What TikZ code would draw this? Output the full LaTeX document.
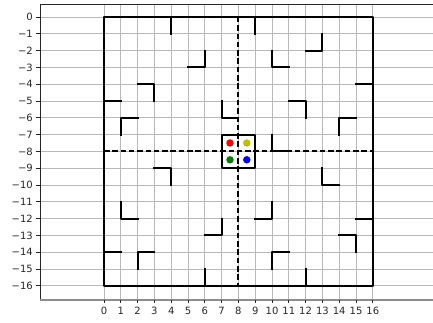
\documentclass[tikz,border=0pt]{standalone}
\usepackage{fontspec}
\setmainfont{DejaVu Sans}
\begin{document}
\begin{tikzpicture}[x=16.8pt,y=16.8pt,
  gridline/.style={draw=black!28, line width=0.9pt},
  wall/.style={draw=black, line width=2.1pt, line cap=rect, line join=round},
  split/.style={draw=black, line width=1.9pt, dash pattern=on 5.5pt off 2.8pt},
  spine/.style={draw=black!85, line width=0.9pt},
  tickmark/.style={draw=black!85, line width=0.8pt},
  ticklabel/.style={font=\fontsize{10pt}{12pt}\selectfont, text=black!85, inner sep=0pt},
  dot/.style={circle, inner sep=0pt, minimum size=7.5pt}]
\useasboundingbox (-6.1905,1.0119) rectangle (19.5833,-18.2143);
% grid
\foreach \i in {0,...,16} {
  \draw[gridline] (\i,-16.845) -- (\i,0.744);
  \draw[gridline] (-3.8095,-\i) -- (19.6,-\i);
}
% walls
\draw[wall] (0,0) rectangle (16,-16);
\draw[wall] (7,-7) rectangle (9,-9);
\draw[wall] (4,0)--(4,-1);
\draw[wall] (9,0)--(9,-1);
\draw[wall] (12,-2)--(13,-2)--(13,-1);
\draw[wall] (5,-3)--(6,-3)--(6,-2);
\draw[wall] (10,-2)--(10,-3)--(11,-3);
\draw[wall] (2,-4)--(3,-4)--(3,-5);
\draw[wall] (15,-4)--(16,-4);
\draw[wall] (0,-5)--(1,-5);
\draw[wall] (1,-7)--(1,-6)--(2,-6);
\draw[wall] (7,-5)--(7,-6)--(8,-6);
\draw[wall] (11,-5)--(12,-5)--(12,-6);
\draw[wall] (14,-7)--(14,-6)--(15,-6);
\draw[wall] (10,-7)--(10,-8)--(11,-8);
\draw[wall] (3,-9)--(4,-9)--(4,-10);
\draw[wall] (13,-9)--(13,-10)--(14,-10);
\draw[wall] (1,-11)--(1,-12)--(2,-12);
\draw[wall] (9,-12)--(10,-12)--(10,-11);
\draw[wall] (15,-12)--(16,-12);
\draw[wall] (6,-13)--(7,-13)--(7,-12);
\draw[wall] (14,-13)--(15,-13)--(15,-14);
\draw[wall] (0,-14)--(1,-14);
\draw[wall] (2,-15)--(2,-14)--(3,-14);
\draw[wall] (10,-15)--(10,-14)--(11,-14);
\draw[wall] (6,-15)--(6,-16);
\draw[wall] (12,-15)--(12,-16);
% split lines
\draw[split] (8,0)--(8,-16);
\draw[split] (0,-8)--(16,-8);
% robots
\node[dot, fill={rgb,1:red,1;green,0;blue,0}] (red) at (7.5,-7.5) {};
\node[dot, fill={rgb,1:red,0.75;green,0.75;blue,0}] (yellow) at (8.5,-7.5) {};
\node[dot, fill={rgb,1:red,0;green,0.5;blue,0}] (green) at (7.5,-8.5) {};
\node[dot, fill={rgb,1:red,0;green,0;blue,1}] (blue) at (8.5,-8.5) {};
% spines
\draw[spine] (-3.8095,-16.845) -- (-3.8095,0.744) -- (19.6,0.744);
\draw[draw=black!45, line width=1.5pt] (-3.8095,-16.845) -- (19.6,-16.845);
% ticks
\foreach \i in {0,...,16} {
  \draw[tickmark] (\i,-16.845) -- (\i,-17.053);
  \node[ticklabel, anchor=north] (xl\i) at (\i,-17.26) {\i};
  \draw[tickmark] (-3.8095,-\i) -- (-4.018,-\i);
}
\node[ticklabel, anchor=east] (yl0) at (-4.226,0) {0};
\foreach \i in {1,...,16} {
  \node[ticklabel, anchor=east] (yl\i) at (-4.226,-\i) {−\i};
}
\end{tikzpicture}
\end{document}
